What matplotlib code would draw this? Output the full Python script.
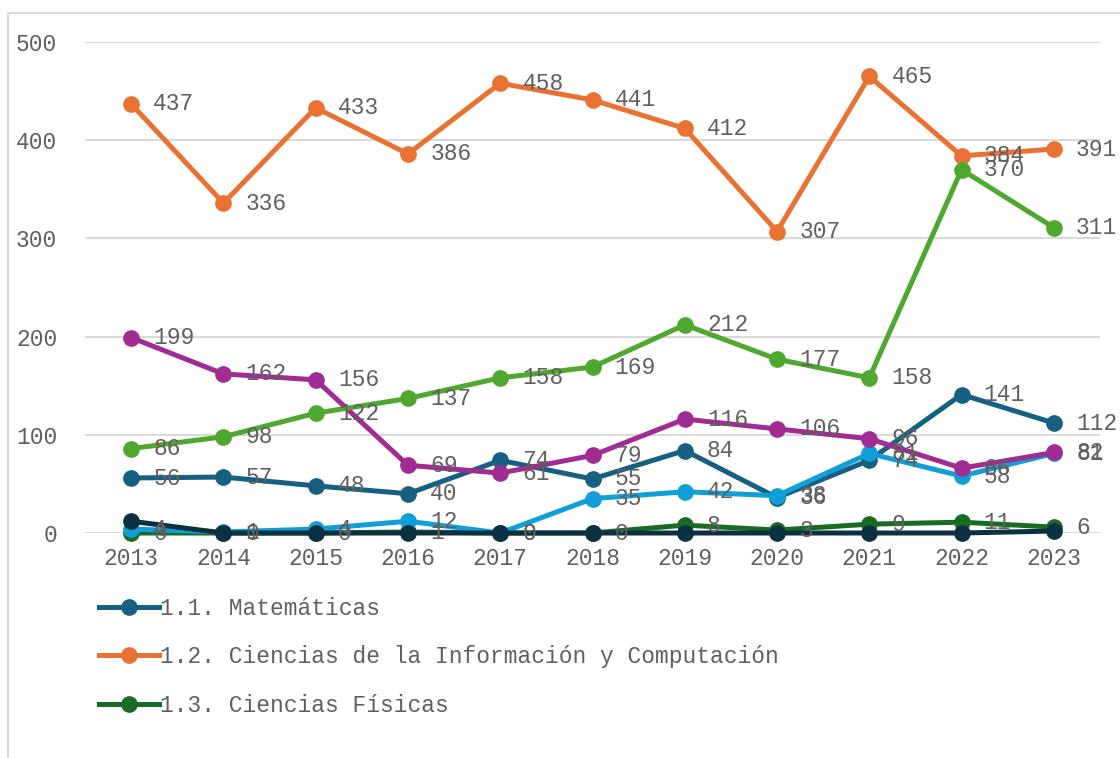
import matplotlib.pyplot as plt
from matplotlib.lines import Line2D

years = [2013, 2014, 2015, 2016, 2017, 2018, 2019, 2020, 2021, 2022, 2023]

# Werte
matematicas = [56, 57, 48, 40, 74, 55, 84, 36, 74, 141, 112]
computacion = [437, 336, 433, 386, 458, 441, 412, 307, 465, 384, 391]
fisicas     = [0, 0, 0, 1, 0, 0, 8, 3, 9, 11, 6]
quimicas    = [4, 1, 4, 12, 0, 35, 42, 38, 81, 58, 81]
tierra      = [199, 162, 156, 69, 61, 79, 116, 106, 96, 66, 82]
biologicas  = [86, 98, 122, 137, 158, 169, 212, 177, 158, 370, 311]
otras       = [12, 0, 0, 0, 0, 0, 0, 0, 0, 0, 2]

series = [
    ("1.1. Matemáticas", matematicas, "#156082", True),
    ("1.2. Ciencias de la Información y Computación", computacion, "#E97132", True),
    ("1.3. Ciencias Físicas", fisicas, "#196B24", True),
    ("1.4. Ciencias Químicas", quimicas, "#0F9ED5", True),
    ("1.5. Ciencias de la Tierra", tierra, "#A02B93", True),
    ("1.6. Ciencias Biológicas", biologicas, "#4EA72E", True),
    ("1.7. Otras Ciencias Naturales", otras, "#0B3041", False),
]

FONT = "Liberation Mono"
GREY = "#5f5f5f"
GRID = "#d9d9d9"

fig = plt.figure(figsize=(11.2, 7.58), dpi=100)
ax = fig.add_axes([85 / 1120, 1 - 533 / 758, 1015 / 1120, 491 / 758])

handles = []
for i, (name, vals, col, show_lbl) in enumerate(series):
    h, = ax.plot(years, vals, color=col, linewidth=3.6, marker="o",
                 markersize=11, clip_on=False, zorder=3 + i, label=name)
    handles.append(h)

# Datenbeschriftungen rechts neben den Punkten
for name, vals, col, show_lbl in series:
    if not show_lbl:
        continue
    for x, v in zip(years, vals):
        ax.annotate(str(v), (x, v), xytext=(16, 0), textcoords="offset points",
                    ha="left", va="center", fontsize=16.5, family=FONT,
                    color=GREY, zorder=20)

ax.set_xlim(2012.5, 2023.5)
ax.set_ylim(0, 500)
ax.set_yticks([0, 100, 200, 300, 400, 500])
ax.set_xticks(years)
ax.grid(axis="y", color=GRID, linewidth=1.5)
ax.set_axisbelow(True)
for s in ax.spines.values():
    s.set_visible(False)
ax.tick_params(length=0, labelcolor=GREY, labelsize=16.5)
ax.tick_params(axis="y", pad=20)
ax.tick_params(axis="x", pad=10)
for lab in ax.get_xticklabels() + ax.get_yticklabels():
    lab.set_family(FONT)

# Legende (nur die ersten drei Einträge sichtbar)
fig.legend(handles[:3], [s[0] for s in series[:3]],
           loc="upper left", bbox_to_anchor=(90 / 1120, 1 - 588 / 758),
           frameon=False, handlelength=2.6, handletextpad=0.05,
           labelspacing=1.1, borderaxespad=0,
           prop={"family": FONT, "size": 16.5}, labelcolor=GREY)

# Rahmen links/oben
fig.add_artist(Line2D([8 / 1120, 8 / 1120], [0, 1 - 13 / 758],
                      transform=fig.transFigure, color=GRID, linewidth=1.5))
fig.add_artist(Line2D([8 / 1120, 1], [1 - 13 / 758, 1 - 13 / 758],
                      transform=fig.transFigure, color=GRID, linewidth=1.5))

fig.savefig("out.png", dpi=100)
